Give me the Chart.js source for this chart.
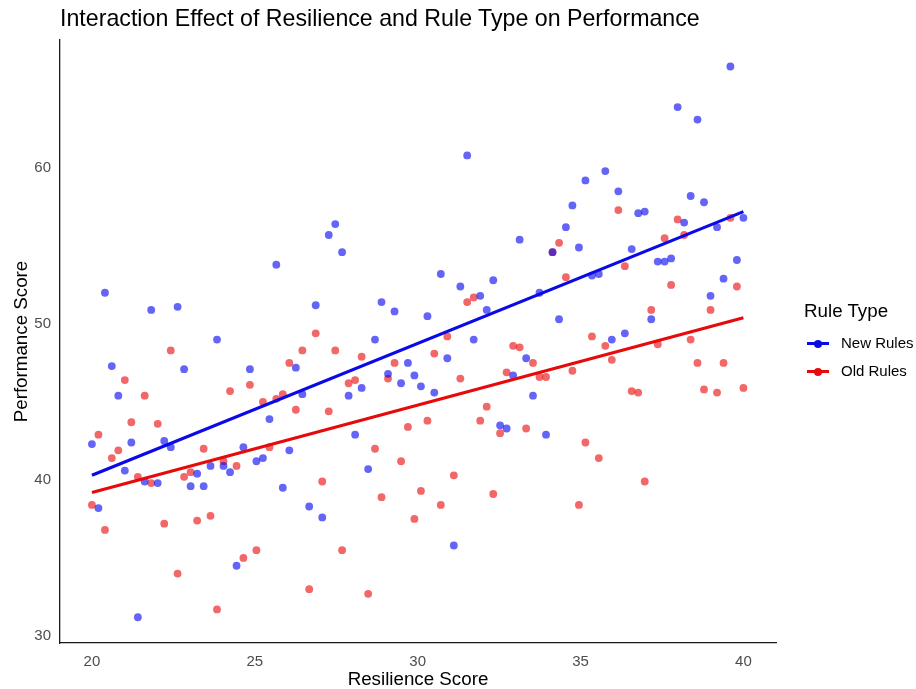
<!DOCTYPE html>
<html>
<head>
<meta charset="utf-8">
<script src="https://cdn.jsdelivr.net/npm/chart.js@4/dist/chart.umd.min.js"></script>
<style>
  body { margin: 0; background: #fff; font-family: "Liberation Sans", Arial, sans-serif; }
  #wrap { position: relative; width: 916px; height: 689px; }
  #title { position: absolute; left: 60px; top: 5px; font-size: 23.2px; color: #000; white-space: nowrap; }
  #legend { position: absolute; left: 804px; top: 299px; color: #000; }
  #legend .head { font-size: 18.75px; line-height: 24px; margin-bottom: 6px; }
  #legend .item { position: relative; height: 28px; font-size: 15px; line-height: 28px; padding-left: 37px; }
  #legend .sym { position: absolute; left: 3px; top: 13px; width: 22px; height: 3px; }
  #legend .sym::after { content: ""; position: absolute; left: 7px; top: -2.5px; width: 8px; height: 8px; border-radius: 50%; background: inherit; }
</style>
</head>
<body>
<div id="wrap">
  <canvas id="chart" width="916" height="689"></canvas>
  <div id="title">Interaction Effect of Resilience and Rule Type on Performance</div>
  <div id="legend">
    <div class="head">Rule Type</div>
    <div class="item"><span class="sym" style="background:#0a0ae6"></span>New Rules</div>
    <div class="item"><span class="sym" style="background:#e60a0a"></span>Old Rules</div>
  </div>
</div>
<script>
// resilience scores (shared by both groups)
const resilience = [
  20.00, 20.20, 20.40, 20.61, 20.81, 21.01, 21.21, 21.41, 21.62, 21.82,
  22.02, 22.22, 22.42, 22.63, 22.83, 23.03, 23.23, 23.43, 23.64, 23.84,
  24.04, 24.24, 24.44, 24.65, 24.85, 25.05, 25.25, 25.45, 25.66, 25.86,
  26.06, 26.26, 26.46, 26.67, 26.87, 27.07, 27.27, 27.47, 27.68, 27.88,
  28.08, 28.28, 28.48, 28.69, 28.89, 29.09, 29.29, 29.49, 29.70, 29.90,
  30.10, 30.30, 30.51, 30.71, 30.91, 31.11, 31.31, 31.52, 31.72, 31.92,
  32.12, 32.32, 32.53, 32.73, 32.93, 33.13, 33.33, 33.54, 33.74, 33.94,
  34.14, 34.34, 34.55, 34.75, 34.95, 35.15, 35.35, 35.56, 35.76, 35.96,
  36.16, 36.36, 36.57, 36.77, 36.97, 37.17, 37.37, 37.58, 37.78, 37.98,
  38.18, 38.38, 38.59, 38.79, 38.99, 39.19, 39.39, 39.60, 39.80, 40.00
];

const newRules = [
  42.3, 38.2, 52.0, 47.3, 45.4, 40.6, 42.4, 31.2, 39.9, 50.9,
  39.8, 42.5, 42.1, 51.1, 47.1, 39.6, 40.4, 39.6, 40.9, 49.0,
  40.9, 40.5, 34.5, 42.1, 47.1, 41.2, 41.4, 43.9, 53.8, 39.5,
  41.9, 47.2, 45.5, 38.3, 51.2, 37.6, 55.7, 56.4, 54.6, 45.4,
  42.9, 45.9, 40.7, 49.0, 51.4, 46.8, 50.8, 46.2, 47.5, 46.7,
  46.0, 50.5, 45.6, 53.2, 47.8, 35.8, 52.4, 60.8, 49.0, 51.8,
  50.9, 52.8, 43.5, 43.3, 46.7, 55.4, 47.8, 45.4, 52.0, 42.9,
  54.6, 50.3, 56.2, 57.6, 54.9, 59.2, 53.1, 53.2, 59.8, 49.0,
  58.5, 49.4, 54.8, 57.1, 57.2, 50.3, 54.0, 54.0, 54.2, 63.9,
  56.5, 58.2, 63.1, 57.8, 51.8, 56.2, 52.9, 66.5, 54.1, 56.8
];

const oldRules = [
  38.4, 42.9, 36.8, 41.4, 41.9, 46.4, 43.7, 40.2, 45.4, 39.8,
  43.6, 37.2, 48.3, 34.0, 40.2, 40.5, 37.4, 42.0, 37.7, 31.7,
  41.2, 45.7, 40.9, 35.0, 46.1, 35.5, 45.0, 42.1, 45.2, 45.5,
  47.5, 44.5, 48.3, 33.0, 49.4, 39.9, 44.4, 48.3, 35.5, 46.2,
  46.4, 47.9, 32.7, 42.0, 38.9, 46.5, 47.5, 41.2, 43.4, 37.5,
  39.3, 43.8, 48.1, 38.4, 49.2, 40.3, 46.5, 51.4, 51.7, 43.8,
  44.7, 39.1, 43.0, 46.9, 48.6, 48.5, 43.3, 47.5, 46.6, 46.6,
  54.6, 55.2, 53.0, 47.0, 38.4, 42.4, 49.2, 41.4, 48.6, 47.7,
  57.3, 53.7, 45.7, 45.6, 39.9, 50.9, 48.7, 55.5, 52.5, 56.7,
  55.7, 49.0, 47.5, 45.8, 50.9, 45.6, 47.5, 56.8, 52.4, 45.9
];

// fitted lines, read at the ends of the range
const fitX = [20, 40];
const newFit = [40.3, 57.2];
const oldFit = [39.2, 50.4];

const xTicks = [20, 25, 30, 35, 40];
const yTicks = [30, 40, 50, 60];

const pts = ys => ys.map((y, i) => ({ x: resilience[i], y }));
const fit = ys => ys.map((y, i) => ({ x: fitX[i], y }));

const tickFont = { family: '"Liberation Sans", Arial, sans-serif', size: 15 };
const titleFont = { family: '"Liberation Sans", Arial, sans-serif', size: 18.75 };

new Chart(document.getElementById('chart'), {
  type: 'scatter',
  data: {
    datasets: [
      { type: 'line', label: 'New Rules fit', data: fit(newFit), borderColor: '#0a0ae6', borderWidth: 3.2, pointRadius: 0, fill: false },
      { type: 'line', label: 'Old Rules fit', data: fit(oldFit), borderColor: '#e60a0a', borderWidth: 3.2, pointRadius: 0, fill: false },
      { label: 'New Rules', data: pts(newRules), backgroundColor: 'rgba(10,10,240,0.63)', borderWidth: 0, pointRadius: 3.9 },
      { label: 'Old Rules', data: pts(oldRules), backgroundColor: 'rgba(235,15,15,0.63)', borderWidth: 0, pointRadius: 3.9 }
    ]
  },
  options: {
    responsive: false,
    devicePixelRatio: 1,
    animation: false,
    layout: { padding: { top: 40, right: 140, left: 0, bottom: 0 } },
    plugins: { legend: { display: false }, tooltip: { enabled: false } },
    scales: {
      x: {
        type: 'linear', min: 19.02, max: 41.0,
        afterBuildTicks: s => { s.ticks = xTicks.map(v => ({ value: v })); },
        afterFit: s => { s.height = 46; },
        grid: { display: false, drawTicks: false },
        border: { display: true, color: '#1a1a1a', width: 1.3 },
        ticks: { color: '#4d4d4d', font: tickFont, padding: 10 },
        title: { display: true, text: 'Resilience Score', color: '#000', font: titleFont, padding: { top: 0, bottom: -2 } }
      },
      y: {
        type: 'linear', min: 29.55, max: 68.2,
        afterBuildTicks: s => { s.ticks = yTicks.map(v => ({ value: v })); },
        afterFit: s => { s.width = 60; },
        grid: { display: false, drawTicks: false },
        border: { display: true, color: '#1a1a1a', width: 1.3 },
        ticks: { color: '#4d4d4d', font: tickFont, padding: 9 },
        title: { display: true, text: 'Performance Score', color: '#000', font: titleFont, padding: { top: 11, bottom: 0 } }
      }
    }
  }
});
</script>
</body>
</html>
